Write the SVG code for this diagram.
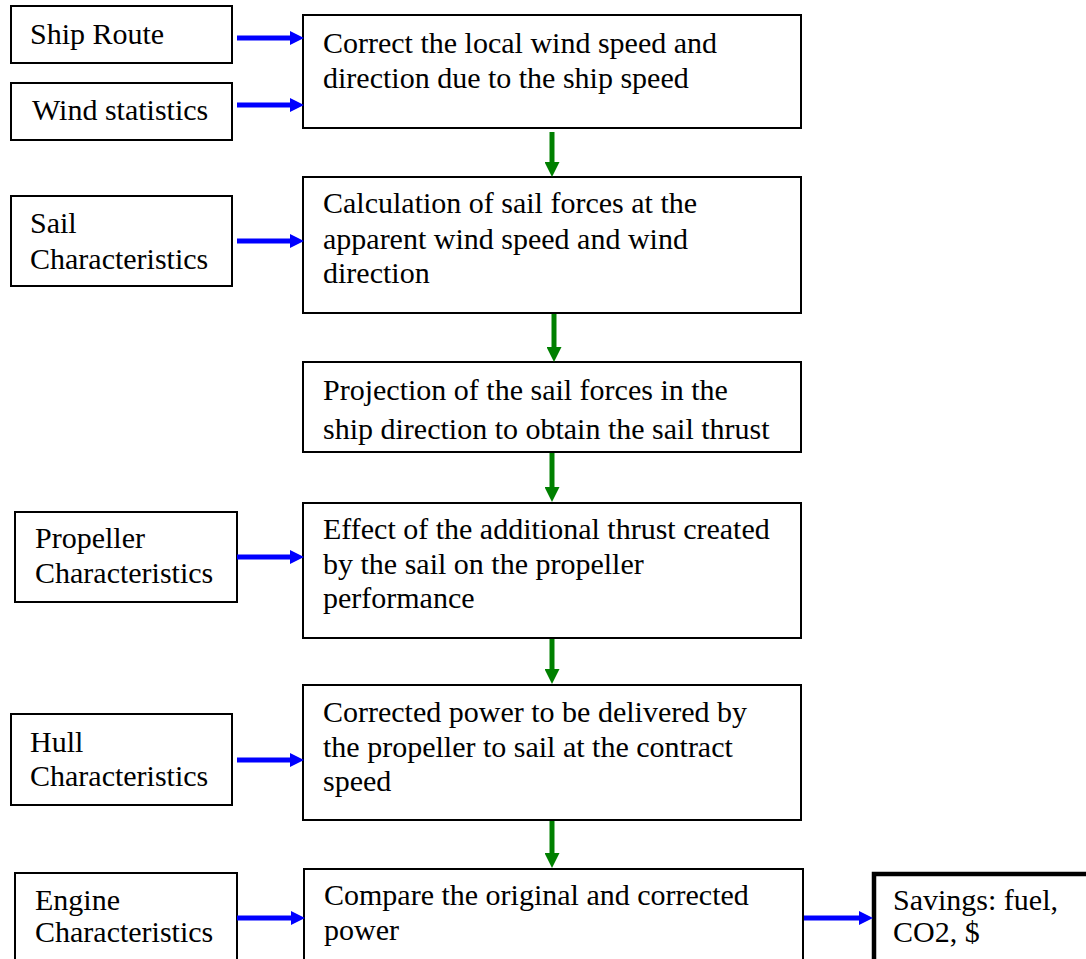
<svg xmlns="http://www.w3.org/2000/svg" width="1086" height="959" viewBox="0 0 1086 959">
<defs>
<style>
.box{fill:#fff;stroke:#000;stroke-width:2}
.thick{fill:#fff;stroke:#000;stroke-width:4.5}
.t{font-family:"Liberation Serif","Times New Roman",serif;font-size:30px;fill:#000}
.blue{stroke:#0000ff;stroke-width:5;fill:none;marker-end:url(#ab)}
.green{stroke:#008000;stroke-width:5;fill:none;marker-end:url(#ag)}
</style>
<marker id="ab" markerUnits="userSpaceOnUse" markerWidth="14" markerHeight="14" viewBox="0 0 14 14" refX="0" refY="7" orient="auto"><path d="M0,0 L14,7 L0,14 z" fill="#0000ff"/></marker>
<marker id="ag" markerUnits="userSpaceOnUse" markerWidth="15" markerHeight="15" viewBox="0 0 15 15" refX="0" refY="7.5" orient="auto"><path d="M0,0 L15,7.5 L0,15 z" fill="#008000"/></marker>
</defs>
<rect width="1086" height="959" fill="#fff"/>
<g id="ship-route"><rect class="box" x="11" y="6" width="221" height="57"/><text class="t" x="30" y="44">Ship Route</text></g>
<g id="wind-statistics"><rect class="box" x="11" y="83" width="221" height="57"/><text class="t" x="32" y="120">Wind statistics</text></g>
<g id="sail-char"><rect class="box" x="11" y="196" width="221" height="90"/><text class="t" x="30" y="233">Sail</text><text class="t" x="30" y="269">Characteristics</text></g>
<g id="propeller-char"><rect class="box" x="15" y="512" width="222" height="90"/><text class="t" x="35" y="548">Propeller</text><text class="t" x="35" y="583">Characteristics</text></g>
<g id="hull-char"><rect class="box" x="11" y="714" width="221" height="91"/><text class="t" x="30" y="752">Hull</text><text class="t" x="30" y="786">Characteristics</text></g>
<g id="engine-char"><rect class="box" x="15" y="873" width="222" height="100"/><text class="t" x="35" y="910">Engine</text><text class="t" x="35" y="942">Characteristics</text></g>
<g id="step1"><rect class="box" x="303" y="15" width="498" height="113"/><text class="t" x="323" y="53">Correct the local wind speed and</text><text class="t" x="323" y="88">direction due to the ship speed</text></g>
<g id="step2"><rect class="box" x="303" y="177" width="498" height="136"/><text class="t" x="323" y="213">Calculation of sail forces at the</text><text class="t" x="323" y="249">apparent wind speed and wind</text><text class="t" x="323" y="283">direction</text></g>
<g id="step3"><rect class="box" x="303" y="362" width="498" height="90"/><text class="t" x="323" y="400">Projection of the sail forces in the</text><text class="t" x="323" y="439">ship direction to obtain the sail thrust</text></g>
<g id="step4"><rect class="box" x="303" y="503" width="498" height="135"/><text class="t" x="323" y="539">Effect of the additional thrust created</text><text class="t" x="323" y="574">by the sail on the propeller</text><text class="t" x="323" y="608">performance</text></g>
<g id="step5"><rect class="box" x="303" y="685" width="498" height="135"/><text class="t" x="323" y="722">Corrected power to be delivered by</text><text class="t" x="323" y="757">the propeller to sail at the contract</text><text class="t" x="323" y="791">speed</text></g>
<g id="step6"><rect class="box" x="304" y="869" width="499" height="110"/><text class="t" x="324" y="905">Compare the original and corrected</text><text class="t" x="324" y="940">power</text></g>
<g id="savings"><rect class="thick" x="874" y="874" width="240" height="110"/><text class="t" x="893" y="910">Savings: fuel,</text><text class="t" x="893" y="942">CO2, $</text></g>
<g id="connectors">
<line class="blue" x1="237" y1="38" x2="290" y2="38"/>
<line class="blue" x1="237" y1="105" x2="290" y2="105"/>
<line class="blue" x1="237" y1="241" x2="290" y2="241"/>
<line class="blue" x1="237" y1="557" x2="290" y2="557"/>
<line class="blue" x1="237" y1="760" x2="290" y2="760"/>
<line class="blue" x1="237" y1="918" x2="291" y2="918"/>
<line class="blue" x1="804" y1="918" x2="859" y2="918"/>
<line class="green" x1="552" y1="132" x2="552" y2="162"/>
<line class="green" x1="554" y1="314" x2="554" y2="347"/>
<line class="green" x1="552" y1="453" x2="552" y2="487"/>
<line class="green" x1="552" y1="639" x2="552" y2="669"/>
<line class="green" x1="552" y1="821" x2="552" y2="853"/>
</g>
</svg>
